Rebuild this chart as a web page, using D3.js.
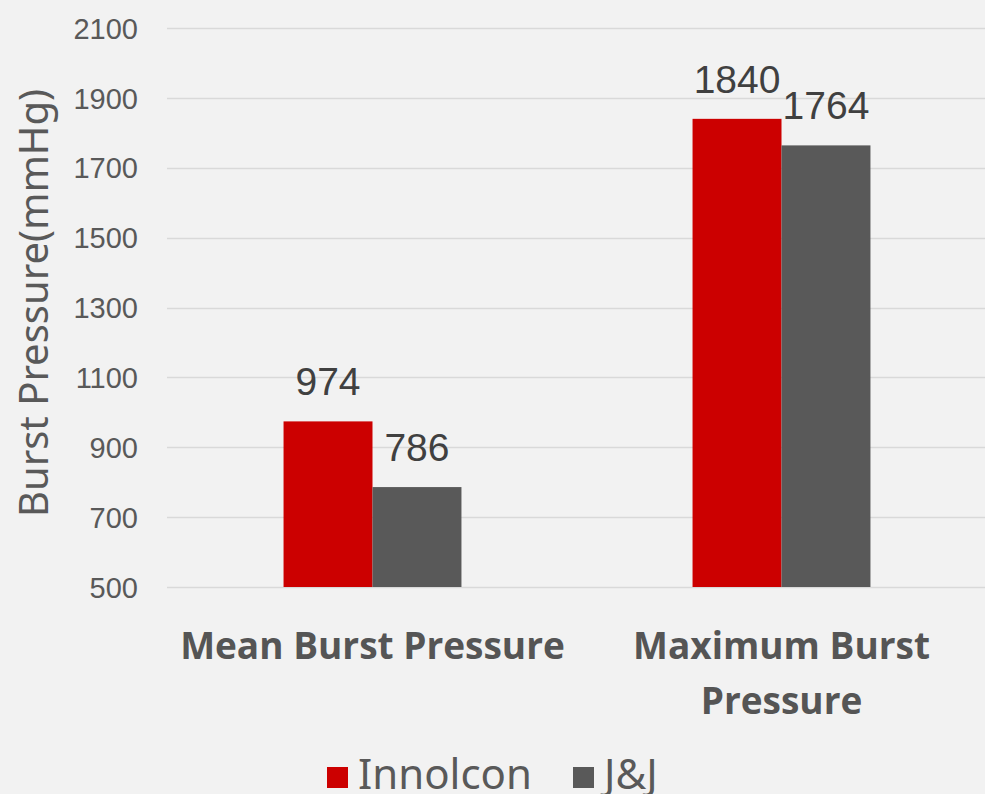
<!DOCTYPE html>
<html>
<head>
<meta charset="utf-8">
<script src="https://cdn.jsdelivr.net/npm/d3@7"></script>
<style>
  html, body { margin: 0; padding: 0; background: #f2f2f2; overflow: hidden; }
  svg { display: block; }
</style>
</head>
<body>
<svg id="chart"></svg>
<script>
var categories = [["Mean Burst Pressure"], ["Maximum Burst", "Pressure"]];
var seriesNames = ["Innolcon", "J&J"];
var innolconValues = [974, 1840];
var jjValues = [786, 1764];
var yTicks = [500, 700, 900, 1100, 1300, 1500, 1700, 1900, 2100];
var colors = ["#cc0000", "#595959"];

var width = 985, height = 794,
  margin = {top: 28, right: -1, bottom: 207, left: 168},
  innerWidth = width - margin.left - margin.right,
  innerHeight = height - margin.top - margin.bottom;

var svg = d3.select("#chart")
  .attr("width", width)
  .attr("height", height);

var g = svg.append("g")
  .attr("transform", "translate(" + margin.left + "," + margin.top + ")");

var catKeys = categories.map(function(d) { return d.join(" "); });

var x = d3.scaleBand()
  .domain(catKeys)
  .range([0, innerWidth])
  .paddingInner(0.565)
  .paddingOuter(0.2825);

var xs = d3.scaleBand()
  .domain(seriesNames)
  .range([0, x.bandwidth()]);

var y = d3.scaleLinear()
  .domain([500, 2100])
  .range([innerHeight, 0]);

// gridlines
g.append("g")
  .attr("class", "grid")
  .selectAll("line")
  .data(yTicks)
  .enter()
  .append("line")
    .attr("x1", -1)
    .attr("x2", innerWidth)
    .attr("y1", function(d) { return Math.round(y(d)) + 0.5; })
    .attr("y2", function(d) { return Math.round(y(d)) + 0.5; })
    .attr("stroke", "#d9d9d9")
    .attr("stroke-width", 1.5);

// y axis labels
var yAxis = g.append("g")
  .attr("class", "y axis")
  .call(d3.axisLeft(y).tickValues(yTicks).tickFormat(d3.format("d")).tickSize(0).tickPadding(30));
yAxis.select(".domain").remove();
yAxis.selectAll("text")
  .attr("fill", "#595959")
  .attr("dy", "0.35em")
  .style("font-family", "'Liberation Sans', Arial, sans-serif")
  .style("font-size", "29px");

// bars
var rows = catKeys.map(function(k, i) {
  return {key: k, values: [innolconValues[i], jjValues[i]]};
});

var groups = g.selectAll(".cat")
  .data(rows)
  .enter()
  .append("g")
    .attr("class", "cat")
    .attr("transform", function(d) { return "translate(" + x(d.key) + ",0)"; });

groups.selectAll("rect")
  .data(function(d) { return d.values.map(function(v, i) { return {s: seriesNames[i], v: v, i: i}; }); })
  .enter()
  .append("rect")
    .attr("x", function(d) { return xs(d.s); })
    .attr("width", xs.bandwidth())
    .attr("y", function(d) { return y(d.v); })
    .attr("height", function(d) { return y(500) - y(d.v); })
    .attr("fill", function(d) { return colors[d.i]; });

groups.selectAll(".val")
  .data(function(d) { return d.values.map(function(v, i) { return {s: seriesNames[i], v: v}; }); })
  .enter()
  .append("text")
    .attr("class", "val")
    .attr("x", function(d) { return xs(d.s) + xs.bandwidth() / 2; })
    .attr("y", function(d) { return y(d.v) - 26; })
    .attr("text-anchor", "middle")
    .attr("fill", "#404040")
    .style("font-family", "'Liberation Sans', Arial, sans-serif")
    .style("font-size", "39px")
    .text(function(d) { return d.v; });

// category labels
var xLab = g.append("g")
  .attr("class", "x axis")
  .attr("transform", "translate(0," + innerHeight + ")");

xLab.selectAll("text")
  .data(categories)
  .enter()
  .append("text")
    .attr("x", function(d) { return x(d.join(" ")) + x.bandwidth() / 2; })
    .attr("y", 72)
    .attr("text-anchor", "middle")
    .attr("fill", "#555555")
    .style("font-family", "'Open Sans', sans-serif")
    .style("font-weight", "bold")
    .style("font-size", "37px")
    .each(function(d) {
      var t = d3.select(this);
      d.forEach(function(line, i) {
        t.append("tspan")
          .attr("x", t.attr("x"))
          .attr("dy", i === 0 ? 0 : 55)
          .text(line);
      });
    });

// y title
svg.append("text")
  .attr("transform", "translate(48," + 303 + ") rotate(-90)")
  .attr("text-anchor", "middle")
  .attr("fill", "#595959")
  .style("font-family", "'Noto Sans', sans-serif")
  .style("font-size", "40px")
  .text("Burst Pressure(mmHg)");

// legend
var legend = svg.append("g")
  .attr("class", "legend")
  .attr("transform", "translate(327,794)");

var legendX = [0, 246];
var items = legend.selectAll("g")
  .data(seriesNames)
  .enter()
  .append("g")
    .attr("transform", function(d, i) { return "translate(" + legendX[i] + ",0)"; });

items.append("rect")
  .attr("x", 0)
  .attr("y", -27)
  .attr("width", 21)
  .attr("height", 21)
  .attr("fill", function(d, i) { return colors[i]; });

items.append("text")
  .attr("x", 31)
  .attr("y", -5)
  .attr("fill", "#595959")
  .style("font-family", "'Noto Sans', sans-serif")
  .style("font-size", "42px")
  .text(function(d) { return d; });
</script>
</body>
</html>
